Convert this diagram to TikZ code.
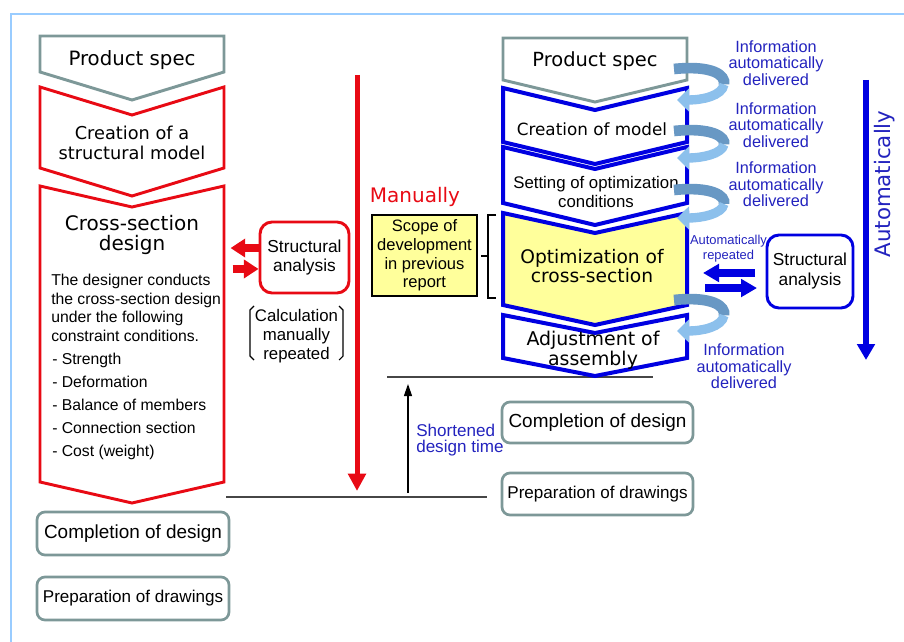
\documentclass[tikz,border=0pt]{standalone}
\usepackage{fontspec}
\setmainfont{Liberation Sans}
\newfontfamily\headfont{DejaVu Sans}
\usetikzlibrary{arrows.meta}

\definecolor{framebl}{RGB}{153,204,255}
\definecolor{manred}{RGB}{232,10,20}
\definecolor{autoblue}{RGB}{0,0,225}
\definecolor{txtblue}{RGB}{35,35,190}
\definecolor{specgray}{RGB}{125,152,152}
\definecolor{scopeyel}{RGB}{255,255,155}
\definecolor{ribbonlt}{RGB}{140,192,236}
\definecolor{ribbondk}{RGB}{104,152,196}
\definecolor{rulegray}{RGB}{70,70,70}

\newcommand{\fsz}[2]{\fontsize{#1}{#2}\selectfont}
% chevron: [style]{x left}{x right}{y top}{y bottom}{depth}
\newcommand{\chevron}[6][]{\draw[#1] (#2,#4) -- ({(#2+#3)/2},#4+#6) -- (#3,#4) -- (#3,#5) -- ({(#2+#3)/2},#5+#6) -- (#2,#5) -- cycle;}
\newcommand{\flatchevron}[6][]{\draw[#1] (#2,#4) -- (#3,#4) -- (#3,#5) -- ({(#2+#3)/2},#5+#6) -- (#2,#5) -- cycle;}

\begin{document}
\begin{tikzpicture}[x=0.75pt, y={(0pt,-0.75pt)}, line join=miter,
  txt/.style={inner sep=0pt, align=center},
  head/.style={txt, font=\headfont\fsz{#1}{15}},
  plain/.style={txt, font=\fsz{#1}{14.3}},
  redchev/.style={draw=manred, line width=2.2pt, fill=white},
  bluechev/.style={draw=autoblue, line width=3pt, fill=white},
  specchev/.style={draw=specgray, line width=2.2pt, fill=white},
  redbox/.style={txt, draw=manred, line width=2.2pt, rounded corners=9pt},
  bluebox/.style={txt, draw=autoblue, line width=2.2pt, rounded corners=9pt},
  endbox/.style={txt, draw=specgray, line width=2pt, rounded corners=6pt, fill=white},
  info/.style={txt, text=txtblue, font=\fsz{12.2}{12.4}},
  redblock/.style={manred, line width=6pt, -{Triangle[length=11pt,width=13.5pt]}},
  blueblock/.style={autoblue, line width=5.5pt, -{Triangle[length=12pt,width=13pt]}},
  ribbonbk/.style={ribbondk, line width=8pt},
  ribbonfr/.style={ribbonlt, line width=7pt, -{Triangle[length=9pt,width=17pt]}},
  rule/.style={rulegray, line width=1.1pt}]
  \useasboundingbox (0,0) rectangle (904,642);
  \draw[framebl, line width=1.5pt] (11,642) -- (11,14) -- (904,14);

  % ---- left: manual flow ----
  \flatchevron[specchev]{40}{224}{36}{72}{28}
  \chevron[redchev]{40}{224}{87}{168}{28}
  \chevron[redchev]{40}{224}{186}{482}{21}
  \node[head=14.8, anchor=base] (lspec) at (132,66) {Product spec};
  \node[head=13.3] (lmodel) at (132,142.5) {Creation of a\\structural model};
  \node[head=15, font=\headfont\fsz{15}{14.5}] (lcross) at (132,235) {Cross-section\\design};
  \node[txt, align=left, anchor=west, font=\fsz{11.8}{13.9}] (ldesc) at (51,308)
    {The designer conducts\\the cross-section design\\under the following\\constraint conditions.};
  \node[txt, align=left, anchor=west, font=\fsz{11.8}{17.1}] (lreqs) at (52,406.5)
    {- Strength\\- Deformation\\- Balance of members\\- Connection section\\- Cost (weight)};
  \node[redbox, minimum width=66.75pt, minimum height=53.25pt, font=\fsz{13}{14.3}] (lsa) at (304.5,257.5) {Structural\\analysis};
  \draw[redblock] ([yshift=7.1pt]lsa.west) -- ++(-28,0);
  \draw[redblock] ([xshift=-19.5pt,yshift=-8.6pt]lsa.west) -- ([yshift=-8.6pt]lsa.west);
  \node[plain=12.6] (lcalc) at (296.5,336) {Calculation\\manually\\repeated};
  \draw[line width=0.8pt] (254,306) -- (250,310) -- (250,356) -- (254,360);
  \draw[line width=0.8pt] (339,306) -- (343,310) -- (343,356) -- (339,360);
  \node[endbox, minimum width=144pt, minimum height=32.25pt, font=\fsz{14.2}{15}] (ldone) at (133,533.5) {Completion of design};
  \node[endbox, minimum width=144pt, minimum height=32.25pt, font=\fsz{12.8}{15}] (ldraw) at (133,598.5) {Preparation of drawings};

  % ---- centre: time axis ----
  \draw[manred, line width=3.75pt, -{Triangle[length=13pt,width=13pt]}] (357,75) -- (357,491);
  \node[txt, text=manred, font=\headfont\fsz{15}{15}, anchor=base] (manual) at (415,202) {Manually};
  \node[txt, draw=black, line width=1.8pt, fill=scopeyel, minimum width=78.75pt, minimum height=60.75pt,
    font=\fsz{12.4}{14}] (scope) at (424.5,255.5) {Scope of\\development\\in previous\\report};
  \draw[line width=1pt] (496,215) -- (488,215) -- (488,298) -- (496,298) (488,256) -- (481,256);
  \draw[rule] (226,497) -- (487,497);
  \draw[rule] (387,377) -- (653,377);
  \draw[line width=0.9pt, -{Triangle[length=9pt,width=6pt]}] (408,493) -- (408,384);
  \node[txt, align=left, anchor=west, text=txtblue, font=\fsz{12.8}{12}] (short) at (416,440) {Shortened\\design time};

  % ---- right: automated flow ----
  \flatchevron[specchev]{503}{687}{38}{80}{22}
  \chevron[bluechev]{503}{687}{88}{142}{22}
  \chevron[bluechev]{503}{687}{147}{203}{22}
  \chevron[bluechev, fill=scopeyel]{503}{687}{213}{305}{20}
  \chevron[bluechev]{503}{687}{315}{358}{18}
  \node[head=14.6, anchor=base] (rspec) at (595,67) {Product spec};
  \node[head=12.6, anchor=base] (rmodel) at (592,136) {Creation of model};
  \node[plain=12.6] (rcond) at (596,192) {Setting of optimization\\conditions};
  \node[head=14, font=\headfont\fsz{14}{14.3}] (ropt) at (592,266) {Optimization of\\cross-section};
  \node[head=14.2] (radj) at (593,350) {Adjustment of\\assembly};
  \foreach \yt/\yh in {69/100, 131/158, 190/218, 300/331}{
    \draw[ribbonbk] (674,\yt) .. controls (712,\yt-4) and (726,\yt+6) .. (724,{(\yt+\yh)/2});
    \draw[ribbonfr] (724,{(\yt+\yh)/2}) .. controls (722,\yh-4) and (702,\yh) .. (677,\yh);}
  \node[info] (inf1) at (776,63) {Information\\automatically\\delivered};
  \node[info] (inf2) at (776,125) {Information\\automatically\\delivered};
  \node[info] (inf3) at (776,184.5) {Information\\automatically\\delivered};
  \node[info] (inf4) at (744,366.5) {Information\\automatically\\delivered};
  \node[txt, text=txtblue, font=\fsz{9.7}{11.3}] (arep) at (728.5,249) {Automatically\\repeated};
  \node[bluebox, minimum width=64.5pt, minimum height=54.75pt, font=\fsz{13}{15}] (rsa) at (810,271.5) {Structural\\analysis};
  \draw[blueblock] ([xshift=-7.9pt,yshift=-1.1pt]rsa.west) -- ++(-52,0);
  \draw[blueblock] ([xshift=-45.4pt,yshift=-12.4pt]rsa.west) -- ([xshift=-6.4pt,yshift=-12.4pt]rsa.west);
  \draw[autoblue, line width=4.5pt, -{Triangle[length=12pt,width=13pt]}] (866,80) -- (866,360);
  \node[txt, rotate=90, text=txtblue, font=\headfont\fsz{16}{16}] (auto) at (885,184) {Automatically};
  \node[endbox, minimum width=143.25pt, minimum height=30.75pt, font=\fsz{14.2}{15}] (rdone) at (597.5,422.5) {Completion of design};
  \node[endbox, minimum width=143.25pt, minimum height=31.5pt, font=\fsz{12.8}{15}] (rdraw) at (597.5,494) {Preparation of drawings};
\end{tikzpicture}
\end{document}
